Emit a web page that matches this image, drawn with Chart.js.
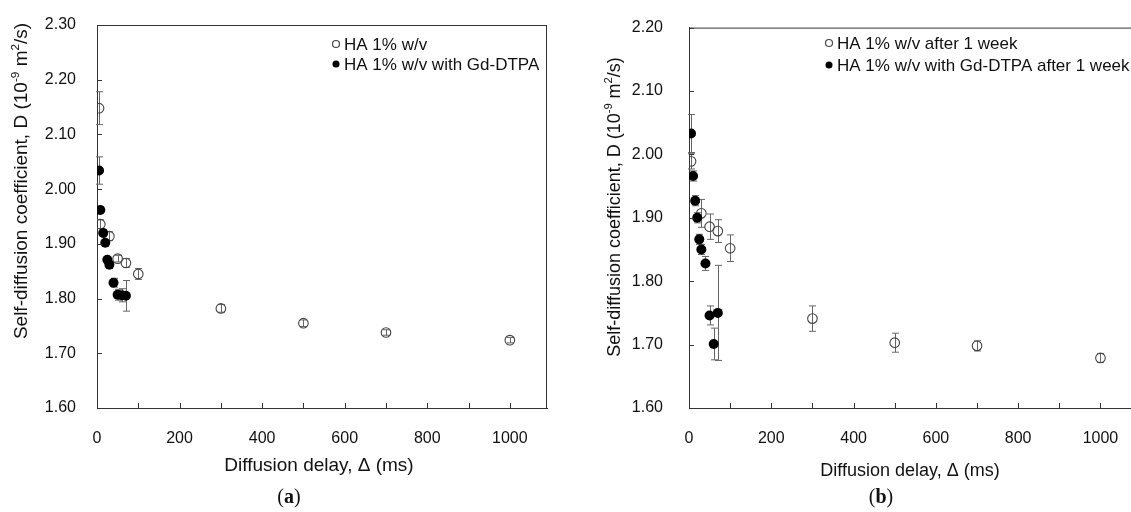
<!DOCTYPE html>
<html>
<head>
<meta charset="utf-8">
<script src="https://cdn.jsdelivr.net/npm/chart.js@4.4.1/dist/chart.umd.min.js"></script>
<style>
  html, body { margin: 0; padding: 0; background: #fff; overflow: hidden; }
  #wrap { position: relative; width: 1131px; height: 512px; overflow: hidden; }
  #chartA { position: absolute; left: 0; top: 0; }
  #chartB { position: absolute; left: 565px; top: 0; }
</style>
</head>
<body>
<div id="wrap">
  <canvas id="chartA" width="565" height="512"></canvas>
  <canvas id="chartB" width="600" height="512"></canvas>
</div>
<script>
// panel (a)
const haX = [5, 8, 30, 50, 70, 100, 300, 500, 700, 1000];
const haD = [2.148, 1.936, 1.914, 1.873, 1.865, 1.845, 1.782, 1.755, 1.738, 1.724];
const haErr = [0.030, 0.008, 0.008, 0.006, 0.008, 0.010, 0.007, 0.006, 0.005, 0.005];

const gdX = [5, 8, 15, 20, 25, 30, 40, 50, 60, 70];
const gdD = [2.034, 1.962, 1.920, 1.902, 1.871, 1.862, 1.829, 1.807, 1.806, 1.805];
const gdErr = [0.025, 0.006, 0.006, 0.006, 0.006, 0.006, 0.008, 0.010, 0.012, 0.028];

// panel (b), after 1 week
const haWX = [5, 30, 50, 70, 100, 300, 500, 700, 1000];
const haWD = [1.989, 1.907, 1.886, 1.879, 1.852, 1.741, 1.703, 1.698, 1.679];
const haWErr = [0.012, 0.022, 0.020, 0.018, 0.021, 0.020, 0.015, 0.008, 0.007];

const gdWX = [5, 10, 15, 20, 25, 30, 40, 50, 60, 70];
const gdWD = [2.033, 1.966, 1.927, 1.900, 1.866, 1.850, 1.828, 1.746, 1.701, 1.750];
const gdWErr = [0.030, 0.008, 0.008, 0.008, 0.008, 0.008, 0.011, 0.015, 0.025, 0.075];

const xTicks = [0, 200, 400, 600, 800, 1000];
const legendA = ["HA 1% w/v", "HA 1% w/v with Gd-DTPA"];
const legendB = ["HA 1% w/v after 1 week", "HA 1% w/v with Gd-DTPA after 1 week"];
const xTitle = "Diffusion delay, \u0394 (ms)";

const FONT = "'Liberation Sans', Arial, sans-serif";

const toPoints = (xs, ys) => xs.map((x, i) => ({ x: x, y: ys[i] }));

// error bars, box, inward ticks, titles and legend
const decoPlugin = {
    id: 'deco',
    beforeDatasetsDraw(chart) {
        const ctx = chart.ctx;
        const xs = chart.scales.x, ys = chart.scales.y;
        ctx.save();
        ctx.strokeStyle = '#666';
        ctx.lineWidth = 1;
        chart.data.datasets.forEach(ds => {
            ds.data.forEach((p, j) => {
                const e = ds.errors[j];
                const px = Math.round(xs.getPixelForValue(p.x)) + 0.5;
                const top = ys.getPixelForValue(p.y + e);
                const bot = ys.getPixelForValue(p.y - e);
                ctx.beginPath();
                ctx.moveTo(px, top); ctx.lineTo(px, bot);
                ctx.moveTo(px - 3.5, top); ctx.lineTo(px + 3.5, top);
                ctx.moveTo(px - 3.5, bot); ctx.lineTo(px + 3.5, bot);
                ctx.stroke();
            });
        });
        ctx.restore();
    },
    afterDraw(chart, args, opts) {
        const ctx = chart.ctx;
        const a = chart.chartArea;
        const xs = chart.scales.x, ys = chart.scales.y;
        ctx.save();
        ctx.strokeStyle = '#333';
        ctx.lineWidth = 1;
        ctx.beginPath();
        ctx.moveTo(a.left, a.top + 0.5); ctx.lineTo(a.right, a.top + 0.5);
        ctx.moveTo(a.right - 0.5, a.top); ctx.lineTo(a.right - 0.5, a.bottom);
        // inward ticks
        for (let v = 100; v <= 1000; v += 100) {
            const px = Math.round(xs.getPixelForValue(v)) + 0.5;
            ctx.moveTo(px, a.bottom); ctx.lineTo(px, a.bottom - 5);
        }
        ys.ticks.forEach(t => {
            const py = Math.round(ys.getPixelForValue(t.value)) + 0.5;
            ctx.moveTo(a.left, py); ctx.lineTo(a.left + 5, py);
        });
        ctx.stroke();

        ctx.fillStyle = '#111';
        ctx.textBaseline = 'middle';

        // x title
        ctx.font = opts.xFont + 'px ' + FONT;
        ctx.textAlign = 'center';
        ctx.fillText(xTitle, opts.xTitleX, opts.xTitleY);

        // panel label "(a)" with bold letter
        ctx.textAlign = 'left';
        const serifN = "20px 'Liberation Serif', serif";
        const serifB = "bold 20px 'Liberation Serif', serif";
        ctx.font = serifN; const wp = ctx.measureText('(').width;
        ctx.font = serifB; const wl = ctx.measureText(opts.label).width;
        let lx = opts.labelX - (wp * 2 + wl) / 2;
        ctx.font = serifN; ctx.fillText('(', lx, opts.labelY);
        ctx.font = serifB; ctx.fillText(opts.label, lx + wp, opts.labelY);
        ctx.font = serifN; ctx.fillText(')', lx + wp + wl, opts.labelY);

        // y title with superscripts
        const yf = opts.yFont;
        const parts = [
            ["Self-diffusion coefficient, D (10", false],
            ["-9", true], [" m", false], ["2", true], ["/s)", false]
        ];
        const fontFor = sup => (sup ? yf * 0.62 : yf) + 'px ' + FONT;
        let total = 0;
        parts.forEach(p => { ctx.font = fontFor(p[1]); total += ctx.measureText(p[0]).width; });
        ctx.translate(opts.yTitleX, opts.yTitleY);
        ctx.rotate(-Math.PI / 2);
        let cx = -total / 2;
        parts.forEach(p => {
            ctx.font = fontFor(p[1]);
            ctx.fillText(p[0], cx, p[1] ? -yf * 0.35 : 0);
            cx += ctx.measureText(p[0]).width;
        });
        ctx.setTransform(1, 0, 0, 1, 0, 0);

        // legend
        ctx.font = opts.legFont + 'px ' + FONT;
        opts.legend.forEach((txt, i) => {
            const mx = opts.legX, my = opts.legY + i * opts.legGap;
            ctx.beginPath();
            ctx.arc(mx, my, 3.5, 0, Math.PI * 2);
            if (i === 0) {
                ctx.strokeStyle = '#444'; ctx.lineWidth = 1.2; ctx.stroke();
            } else {
                ctx.fillStyle = '#000'; ctx.fill();
            }
            ctx.fillStyle = '#111';
            ctx.fillText(txt, mx + 8, my + 1);
        });
        ctx.restore();
    }
};

function makeChart(id, open, filled, o) {
    const ctx = document.getElementById(id).getContext('2d');
    return new Chart(ctx, {
        type: 'scatter',
        data: {
            datasets: [{
                data: open.data,
                errors: open.errors,
                pointRadius: 4.8,
                pointBorderWidth: 1.1,
                pointBorderColor: '#444',
                pointBackgroundColor: 'rgba(0,0,0,0)',
                order: 2
            }, {
                data: filled.data,
                errors: filled.errors,
                pointRadius: 5,
                pointBorderWidth: 0,
                pointBorderColor: '#000',
                pointBackgroundColor: '#000',
                order: 1
            }]
        },
        options: {
            responsive: false,
            animation: false,
            layout: { padding: { left: 0, top: o.top, right: o.right, bottom: 0 } },
            scales: {
                x: {
                    type: 'linear',
                    min: 0,
                    max: 1090,
                    afterBuildTicks: s => { s.ticks = xTicks.map(v => ({ value: v })); },
                    afterFit: s => { s.height = o.xHeight; },
                    grid: { display: false },
                    border: { display: true, color: '#333', width: 1 },
                    ticks: {
                        padding: 13,
                        color: '#111',
                        font: { family: FONT, size: 16 },
                        callback: v => String(v)
                    }
                },
                y: {
                    type: 'linear',
                    min: 1.6,
                    max: o.yMax,
                    afterFit: s => { s.width = o.yWidth; },
                    grid: { display: false },
                    border: { display: true, color: '#333', width: 1 },
                    ticks: {
                        stepSize: 0.1,
                        padding: o.yPad,
                        color: '#111',
                        font: { family: FONT, size: 16 },
                        callback: v => v.toFixed(2)
                    }
                }
            },
            plugins: {
                legend: { display: false },
                tooltip: { enabled: false },
                deco: o.deco
            }
        },
        plugins: [decoPlugin]
    });
}

makeChart('chartA',
    { data: toPoints(haX, haD), errors: haErr },
    { data: toPoints(gdX, gdD), errors: gdErr },
    {
        top: 25, right: 18, xHeight: 104, yWidth: 97, yMax: 2.3, yPad: 13,
        deco: {
            xFont: 19, xTitleX: 319, xTitleY: 466,
            label: 'a', labelX: 289, labelY: 498,
            yFont: 19, yTitleX: 22, yTitleY: 181,
            legend: legendA, legFont: 17, legX: 336, legY: 44, legGap: 20
        }
    });

makeChart('chartB',
    { data: toPoints(haWX, haWD), errors: haWErr },
    { data: toPoints(gdWX, gdWD), errors: gdWErr },
    {
        top: 27, right: 27.5, xHeight: 104, yWidth: 124, yMax: 2.2, yPad: 18,
        deco: {
            xFont: 18, xTitleX: 345, xTitleY: 471,
            label: 'b', labelX: 316, labelY: 498,
            yFont: 18, yTitleX: 50, yTitleY: 207,
            legend: legendB, legFont: 17, legX: 264, legY: 43, legGap: 22
        }
    });
</script>
</body>
</html>
